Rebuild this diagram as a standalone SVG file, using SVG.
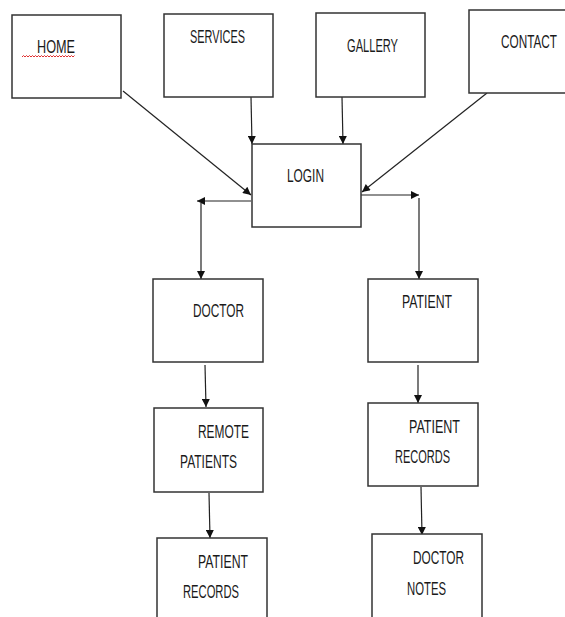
<svg xmlns="http://www.w3.org/2000/svg" width="565" height="617" viewBox="0 0 565 617">
<style>
.box{fill:#fff;stroke:#333;stroke-width:1.5}
.t{font-family:"Liberation Sans",Arial,sans-serif;font-size:19px;fill:#1a1a1a}
.c{fill:none;stroke:#222;stroke-width:1.2}
</style>
<defs>
<marker id="ah" viewBox="0 0 10 10" refX="10" refY="5" markerWidth="10" markerHeight="8" markerUnits="userSpaceOnUse" orient="auto">
<path d="M0,0 L10,5 L0,10 Z" fill="#111"/>
</marker>
</defs>
<rect width="565" height="617" fill="#fff"/>
<g id="connectors">
<line class="c" x1="123" y1="91" x2="251" y2="195" marker-end="url(#ah)"/>
<line class="c" x1="251" y1="97" x2="252" y2="144" marker-end="url(#ah)"/>
<line class="c" x1="342" y1="97" x2="343" y2="144" marker-end="url(#ah)"/>
<line class="c" x1="487" y1="93" x2="362" y2="192" marker-end="url(#ah)"/>
<line class="c" x1="251" y1="201" x2="197" y2="201" marker-end="url(#ah)"/>
<line class="c" x1="201" y1="203" x2="201" y2="279" marker-end="url(#ah)"/>
<line class="c" x1="361" y1="195" x2="419" y2="195" marker-end="url(#ah)"/>
<line class="c" x1="419" y1="198" x2="419" y2="279" marker-end="url(#ah)"/>
<line class="c" x1="205" y1="365" x2="206" y2="407" marker-end="url(#ah)"/>
<line class="c" x1="418" y1="365" x2="418" y2="403" marker-end="url(#ah)"/>
<line class="c" x1="209" y1="493" x2="210" y2="538" marker-end="url(#ah)"/>
<line class="c" x1="421" y1="487" x2="422" y2="535" marker-end="url(#ah)"/>
</g>
<g id="home">
<rect class="box" x="12" y="15" width="109" height="83"/>
<text class="t" x="37" y="53" textLength="38" lengthAdjust="spacingAndGlyphs">HOME</text>
<path d="M22,57 l1.5,-1.5 l1.5,1.5 l1.5,-1.5 l1.5,1.5 l1.5,-1.5 l1.5,1.5 l1.5,-1.5 l1.5,1.5 l1.5,-1.5 l1.5,1.5 l1.5,-1.5 l1.5,1.5 l1.5,-1.5 l1.5,1.5 l1.5,-1.5 l1.5,1.5 l1.5,-1.5 l1.5,1.5 l1.5,-1.5 l1.5,1.5 l1.5,-1.5 l1.5,1.5 l1.5,-1.5 l1.5,1.5 l1.5,-1.5 l1.5,1.5 l1.5,-1.5 l1.5,1.5 l1.5,-1.5 l1.5,1.5 l1.5,-1.5 l1.5,1.5 l1.5,-1.5 l1.5,1.5 l1.5,-1.5" fill="none" stroke="#e03030" stroke-width="1"/>
</g>
<g id="services">
<rect class="box" x="164" y="14" width="109" height="83"/>
<text class="t" x="190" y="43" textLength="55" lengthAdjust="spacingAndGlyphs">SERVICES</text>
</g>
<g id="gallery">
<rect class="box" x="316" y="13" width="109" height="84"/>
<text class="t" x="347" y="52" textLength="51" lengthAdjust="spacingAndGlyphs">GALLERY</text>
</g>
<g id="contact">
<rect class="box" x="469" y="10" width="110" height="83"/>
<text class="t" x="501" y="48" textLength="56" lengthAdjust="spacingAndGlyphs">CONTACT</text>
</g>
<g id="login">
<rect class="box" x="252" y="144" width="109" height="83"/>
<text class="t" x="287" y="182" textLength="37" lengthAdjust="spacingAndGlyphs">LOGIN</text>
</g>
<g id="doctor">
<rect class="box" x="153" y="279" width="110" height="83"/>
<text class="t" x="193" y="317" textLength="51" lengthAdjust="spacingAndGlyphs">DOCTOR</text>
</g>
<g id="patient">
<rect class="box" x="368" y="279" width="110" height="83"/>
<text class="t" x="402" y="308" textLength="50" lengthAdjust="spacingAndGlyphs">PATIENT</text>
</g>
<g id="remote-patients">
<rect class="box" x="154" y="408" width="109" height="84"/>
<text class="t" x="198" y="438" textLength="51" lengthAdjust="spacingAndGlyphs">REMOTE</text>
<text class="t" x="180" y="468" textLength="57" lengthAdjust="spacingAndGlyphs">PATIENTS</text>
</g>
<g id="patient-records-right">
<rect class="box" x="368" y="403" width="110" height="83"/>
<text class="t" x="409" y="433" textLength="51" lengthAdjust="spacingAndGlyphs">PATIENT</text>
<text class="t" x="395" y="463" textLength="55" lengthAdjust="spacingAndGlyphs">RECORDS</text>
</g>
<g id="patient-records-left">
<rect class="box" x="157" y="538" width="110" height="90"/>
<text class="t" x="198" y="568" textLength="50" lengthAdjust="spacingAndGlyphs">PATIENT</text>
<text class="t" x="183" y="598" textLength="56" lengthAdjust="spacingAndGlyphs">RECORDS</text>
</g>
<g id="doctor-notes">
<rect class="box" x="372" y="534" width="110" height="94"/>
<text class="t" x="413" y="564" textLength="51" lengthAdjust="spacingAndGlyphs">DOCTOR</text>
<text class="t" x="407" y="595" textLength="39" lengthAdjust="spacingAndGlyphs">NOTES</text>
</g>
</svg>
